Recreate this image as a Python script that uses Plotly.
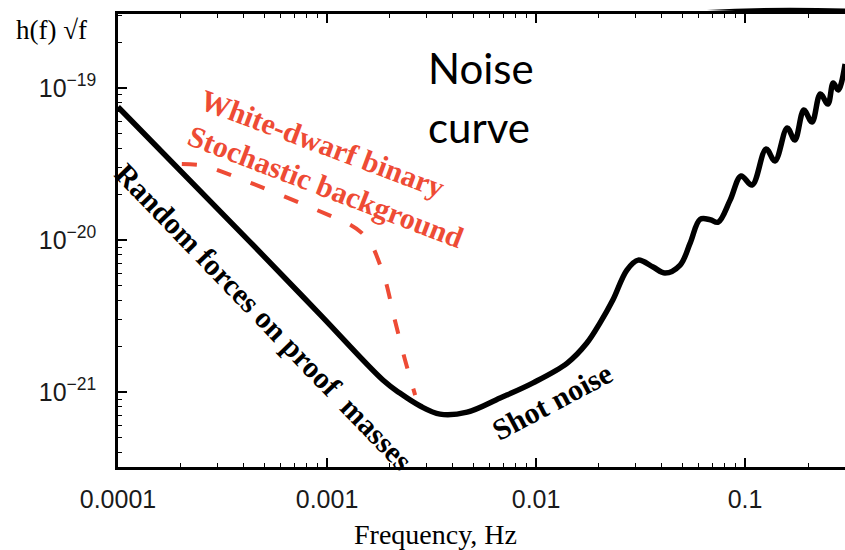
import plotly.graph_objects as go

# ---- data ----
noise_freq = [1.0e-4, 4.29e-4, 9.27e-4, 1.85e-3, 2.23e-3, 2.79e-3, 3.47e-3, 4.68e-3,
              6.73e-3, 9.68e-3, 1.41e-2, 1.75e-2, 2.02e-2, 2.33e-2, 2.72e-2, 3.08e-2,
              3.63e-2, 4.14e-2, 4.89e-2, 5.46e-2, 6.10e-2, 6.81e-2, 7.43e-2, 8.48e-2,
              9.57e-2, 0.108, 0.126, 0.139, 0.159, 0.173, 0.191, 0.209, 0.229, 0.249,
              0.264, 0.279, 0.301]
noise_h = [7.50e-20, 9.70e-21, 3.23e-21, 1.20e-21, 9.84e-22, 8.09e-22, 7.16e-22, 7.38e-22,
           9.14e-22, 1.15e-21, 1.55e-21, 2.10e-21, 2.84e-21, 4.03e-21, 6.35e-21, 7.38e-21,
           6.64e-21, 6.07e-21, 6.85e-21, 9.55e-21, 1.37e-20, 1.36e-20, 1.31e-20, 1.83e-20,
           2.64e-20, 2.30e-20, 3.97e-20, 3.31e-20, 5.46e-20, 4.55e-20, 7.16e-20, 5.97e-20,
           9.14e-20, 7.85e-20, 1.08e-19, 9.70e-20, 1.44e-19]

wd_freq = [2.02e-4, 2.61e-4, 1.29e-3, 1.47e-3, 1.64e-3, 1.90e-3, 2.11e-3, 2.36e-3, 2.64e-3]
wd_h = [3.16e-20, 3.07e-20, 1.26e-20, 1.11e-20, 9.27e-21, 5.46e-21, 2.98e-21, 1.63e-21, 9.55e-22]

x_tickvals = [1e-4, 1e-3, 1e-2, 1e-1]
x_ticktext = ["0.0001", "0.001", "0.01", "0.1"]
y_tickvals = [1e-21, 1e-20, 1e-19]
y_ticktext = ["10<sup>\u221221</sup>", "10<sup>\u221220</sup>", "10<sup>\u221219</sup>"]

# ---- layout geometry ----
W, H = 845, 550
L, R, T, B = 118, 0, 14, 83
PW, PH = W - L - R, H - T - B


def px(x, y):
    return (x - L) / PW, (H - B - y) / PH


x_minor = [m * 10.0 ** e for e in range(-4, 0) for m in range(2, 10)]
y_minor = [m * 10.0 ** e for e in range(-22, -18) for m in range(2, 10)]

fig = go.Figure()
fig.add_trace(go.Scatter(x=wd_freq, y=wd_h, mode="lines",
                         line=dict(color="#EE4B35", width=4, dash="15px,21px",
                                   shape="spline", smoothing=0.6),
                         hoverinfo="skip", showlegend=False))
fig.add_trace(go.Scatter(x=noise_freq, y=noise_h, mode="lines",
                         line=dict(color="black", width=5.5, shape="spline", smoothing=1.0),
                         hoverinfo="skip", showlegend=False))

serif_b = dict(family="Liberation Serif", size=30, color="black", weight="bold")
red_b = dict(family="Liberation Serif", size=30, color="#EE4B35", weight="bold")

annots = []


def add_text(text, x, y, font, angle=0, xanchor="center", yanchor="middle"):
    ax, ay = px(x, y)
    annots.append(dict(text=text, x=ax, y=ay, xref="paper", yref="paper",
                       showarrow=False, font=font, textangle=angle,
                       xanchor=xanchor, yanchor=yanchor))


add_text("White-dwarf binary", 323, 143, red_b, 20.5)
add_text("Stochastic background", 326, 186, red_b, 21)
add_text("Random forces on proof&nbsp; masses", 264, 316, serif_b, 46)
add_text("Shot noise", 552, 402, serif_b, -28)
add_text("Noise", 426, 68, dict(family="Lato", size=42, color="black"), 0, "left", "middle")
add_text("curve", 426, 127, dict(family="Lato", size=42, color="black"), 0, "left", "middle")
add_text("h(f) \u221af", 14, 30, dict(family="Liberation Serif", size=27, color="black"), 0, "left", "middle")
add_text("Frequency, Hz", 435, 534, dict(family="Liberation Serif", size=28, color="black"), 0, "center", "middle")

axis_common = dict(type="log", showline=True, linecolor="black", linewidth=2.5,
                   ticks="inside", ticklen=9, tickwidth=1.5, tickcolor="black",
                   showgrid=False, zeroline=False,
                   tickfont=dict(family="Liberation Sans", size=25, color="#1a1a1a"))

fig.update_layout(
    width=W, height=H,
    margin=dict(l=L, r=R, t=T, b=B),
    paper_bgcolor="white", plot_bgcolor="white",
    xaxis=dict(range=[-4, -0.522], tickmode="array", tickvals=x_tickvals, ticktext=x_ticktext,
               mirror="ticks", ticklabelstandoff=8,
               minor=dict(ticks="inside", ticklen=4, tickwidth=1, tickcolor="black",
                          tickmode="array", tickvals=x_minor, showgrid=False),
               **axis_common),
    yaxis=dict(range=[-21.493, -18.513], tickmode="array", tickvals=y_tickvals, ticktext=y_ticktext,
               mirror=False, ticklabelstandoff=14,
               minor=dict(ticks="inside", ticklen=4, tickwidth=1, tickcolor="black",
                          tickmode="array", tickvals=y_minor, showgrid=False),
               **axis_common),
    annotations=annots,
    shapes=[dict(type="path", xref="paper", yref="paper", layer="above",
                 path="M 0.81 1.009 Q 0.90 1.017 1.0 1.012 L 1.0 1.004 Q 0.90 1.003 0.81 1.009 Z",
                 fillcolor="black", line=dict(width=0))],
)

fig.write_html("out.html")
